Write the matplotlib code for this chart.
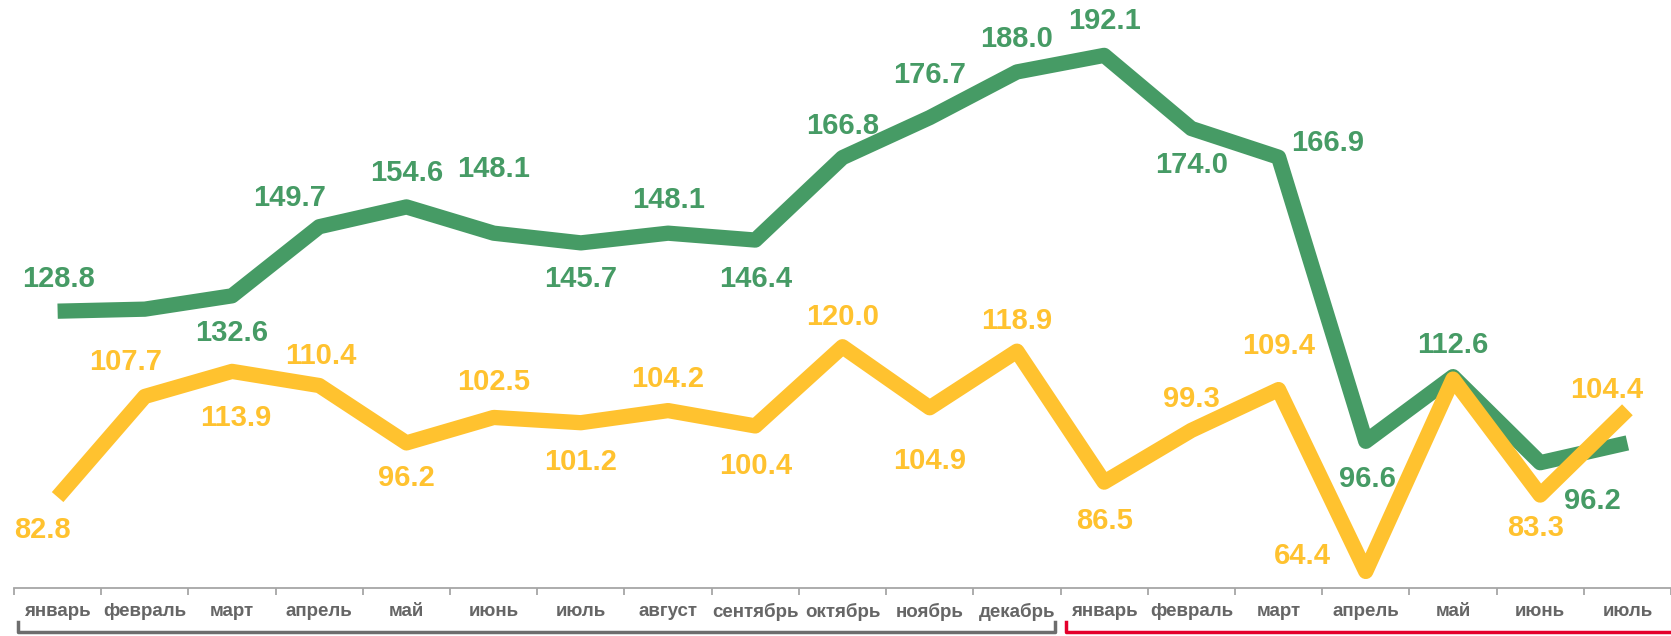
import numpy as np
import matplotlib.pyplot as plt

plt.rcParams['font.family'] = ['Liberation Sans', 'DejaVu Sans']

months = ["январь", "февраль", "март", "апрель", "май", "июнь", "июль",
          "август", "сентябрь", "октябрь", "ноябрь", "декабрь",
          "январь", "февраль", "март", "апрель", "май", "июнь", "июль"]

green = [128.8, 129.3, 132.6, 149.7, 154.6, 148.1, 145.7, 148.1, 146.4,
         166.8, 176.7, 188.0, 192.1, 174.0, 166.9, 96.6, 112.6, 91.3, 96.2]
yellow = [82.8, 107.7, 113.9, 110.4, 96.2, 102.5, 101.2, 104.2, 100.4,
          120.0, 104.9, 118.9, 86.5, 99.3, 109.4, 64.4, 112.0, 83.3, 104.4]

# which points get a visible label (some are hidden in the original)
green_show = [1, 0, 1, 1, 1, 1, 1, 1, 1, 1, 1, 1, 1, 1, 1, 1, 1, 0, 1]
yellow_show = [1, 1, 1, 1, 1, 1, 1, 1, 1, 1, 1, 1, 1, 1, 1, 1, 0, 1, 1]

# label offsets in pixels (dx, dy)
green_off = [(1, 32), (0, 0), (0, -37), (-30, 29), (0, 34), (0, 64), (0, -36),
             (0, 33), (0, -39), (0, 32), (0, 43), (0, 33), (0, 34), (0, -36),
             (49, 14), (2, -38), (0, 32), (0, 0), (-35, -58)]
yellow_off = [(-15, -33), (-19, 34), (4, -47), (2, 30), (0, -35), (0, 35),
              (0, -39), (0, 32), (0, -40), (0, 30), (0, -53), (0, 30),
              (0, -39), (0, 31), (0, 44), (-63, 15), (0, 0), (-5, -33), (-21, 20)]

c_green = "#469b65"
c_yellow = "#ffc22f"

fig = plt.figure(figsize=(16.71, 6.36), dpi=100)
ax = fig.add_axes([14 / 1671, 48 / 636, 1 - 14 / 1671, 588 / 636])

x = np.arange(len(months))
ax.plot(x, green, color=c_green, lw=11, solid_joinstyle='round', solid_capstyle='butt', zorder=3)
ax.plot(x, yellow, color=c_yellow, lw=11, solid_joinstyle='round', solid_capstyle='butt', zorder=4)

for vals, show, offs, col in [(green, green_show, green_off, c_green),
                              (yellow, yellow_show, yellow_off, c_yellow)]:
    for i, v in enumerate(vals):
        if not show[i]:
            continue
        ax.annotate(f"{v:.1f}", (i, v), xytext=offs[i], textcoords='offset pixels',
                    ha='center', va='center', fontsize=21, fontweight='bold',
                    color=col, zorder=5)

ax.set_xlim(-0.5, 18.5)
ax.set_ylim(60.3, 205.8)

for s in ['top', 'right', 'left']:
    ax.spines[s].set_visible(False)
ax.spines['bottom'].set_color('#a6a6a6')
ax.spines['bottom'].set_linewidth(1.3)
ax.set_yticks([])

ax.set_xticks(x)
ax.set_xticklabels(months, fontsize=13.5, fontweight='bold', color='#666666')
ax.tick_params(axis='x', which='major', length=0, pad=11)
ax.set_xticks(np.arange(-0.5, 19, 1), minor=True)
ax.tick_params(axis='x', which='minor', length=5, color='#a6a6a6', width=1.3)

tr = ax.get_xaxis_transform()
yb = -0.074
yh = -0.057
ax.plot([-0.45, -0.45, 11.44, 11.44], [yh, yb, yb, yh], transform=tr,
        color='#6d6d6d', lw=2.5, clip_on=False, solid_joinstyle='round')
ax.plot([11.56, 11.56, 18.7], [yh, yb, yb], transform=tr,
        color='#e4002b', lw=2.5, clip_on=False, solid_joinstyle='round')

fig.savefig("out.png", dpi=100)
